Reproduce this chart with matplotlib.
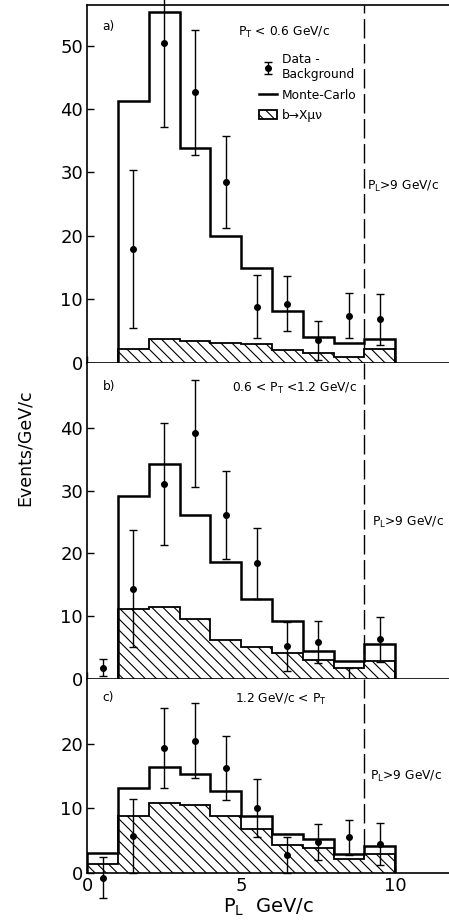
import matplotlib
matplotlib.use("Agg")
import matplotlib.pyplot as plt
import numpy as np

# bin edges in P_L (GeV/c)
edges_ab = np.arange(1, 11)
edges_c = np.arange(0, 11)
centers = np.arange(0.5, 10, 1.0)

# a) P_T < 0.6 GeV/c
mc_a = [41.2, 55.3, 33.9, 20.0, 14.9, 8.2, 4.1, 3.1, 3.7]
bmu_a = [2.2, 3.7, 3.4, 3.1, 2.9, 1.9, 1.5, 0.8, 2.1]
data_a = [17.9, 50.4, 42.6, 28.5, 8.8, 9.3, 3.5, 7.4, 6.8]
err_a = [12.5, 13.2, 9.8, 7.3, 5.0, 4.3, 3.1, 3.5, 4.0]

# b) 0.6 < P_T < 1.2 GeV/c
mc_b = [29.2, 34.3, 26.1, 18.7, 12.7, 9.3, 4.5, 2.8, 5.5]
bmu_b = [11.2, 11.5, 9.5, 6.2, 5.1, 4.2, 3.0, 1.8, 2.9]
data_b = [1.8, 14.4, 31.1, 39.1, 26.1, 18.4, 5.2, 5.9, -0.4, 6.3]
err_b = [1.4, 9.3, 9.7, 8.5, 7.0, 5.7, 3.9, 3.4, 2.2, 3.6]

# c) 1.2 GeV/c < P_T
mc_c = [3.1, 13.2, 16.5, 15.3, 12.7, 8.8, 6.0, 5.2, 2.9, 4.2]
bmu_c = [1.35, 8.8, 10.9, 10.5, 8.8, 6.8, 4.3, 3.8, 2.1, 2.9]
data_c = [-0.8, 5.7, 19.4, 20.5, 16.3, 10.0, 2.7, 4.7, 5.5, 4.5]
err_c = [3.2, 5.7, 6.2, 5.8, 5.0, 4.5, 2.8, 2.8, 2.7, 3.3]

plt.rcParams["font.family"] = ["DejaVu Sans"]
plt.rcParams["hatch.linewidth"] = 0.8

fig, axes = plt.subplots(3, 1, sharex=True, figsize=(4.49, 9.24), dpi=100,
                         gridspec_kw={"height_ratios": [357.5, 316.5, 193.7]})
fig.subplots_adjust(left=0.194, right=1.0, top=0.9946, bottom=0.0555, hspace=0)
ax_a, ax_b, ax_c = axes


def draw_panel(ax, edges, mc, bmu, xd, yd, yerr):
    hat = ax.stairs(bmu, edges, baseline=0, fill=True, facecolor="white",
                    edgecolor="black", hatch="\\\\\\", lw=1.3, zorder=2)
    mc_line = ax.stairs(mc, edges, baseline=0, color="black", lw=1.8, zorder=3)
    eb = ax.errorbar(xd, yd, yerr=yerr, fmt="o", color="black", ms=4,
                     elinewidth=1, capsize=3, capthick=1, zorder=4)
    for art in eb.lines[0:1] + eb.lines[1] + eb.lines[2]:
        art.set_clip_on(False)
    ax.axvline(9, color="black", lw=1, dashes=(14, 4), zorder=1)
    return hat, mc_line, eb


h_a, m_a, e_a = draw_panel(ax_a, edges_ab, mc_a, bmu_a, centers[1:], data_a, err_a)
draw_panel(ax_b, edges_ab, mc_b, bmu_b, centers, data_b, err_b)
draw_panel(ax_c, edges_c, mc_c, bmu_c, centers, data_c, err_c)

ax_a.set_ylim(0, 56.4)
ax_b.set_ylim(0, 50.4)
ax_c.set_ylim(0, 30.1)
ax_a.set_yticks([0, 10, 20, 30, 40, 50])
ax_b.set_yticks([0, 10, 20, 30, 40])
ax_c.set_yticks([0, 10, 20])
ax_c.set_xlim(0, 11.75)
ax_c.set_xticks([0, 5, 10])

for i, ax in enumerate(axes):
    ax.spines["right"].set_visible(False)
    ax.spines["top"].set_visible(i == 0)
    for s in ("left", "bottom", "top"):
        ax.spines[s].set_linewidth(1.2)
    ax.tick_params(direction="in", length=5, width=1, labelsize=13, pad=3)
    if i < 2:
        ax.tick_params(labelbottom=False)

ax_c.set_xlabel("$\\mathregular{P_L}$  GeV/c", fontsize=14, labelpad=1)
fig.text(0.055, 0.515, "Events/GeV/c", rotation=90, fontsize=12.5,
         ha="center", va="center")

fs = 8.8
# panel a
ax_a.text(0.5, 53, "a)", fontsize=fs, va="center")
ax_a.text(4.9, 52, "$\\mathregular{P_T}$ < 0.6 GeV/c", fontsize=fs, va="center")
ax_a.text(9.1, 27.7, "$\\mathregular{P_L}$>9 GeV/c", fontsize=fs, va="center")
ax_a.legend([e_a, m_a, h_a], ["Data -\nBackground", "Monte-Carlo", "b\u2192X\u03bc\u03bd"],
            loc="upper left", bbox_to_anchor=(0.475, 0.865), frameon=False,
            fontsize=fs, handlelength=1.5, handletextpad=0.4, labelspacing=0.6,
            borderpad=0, borderaxespad=0)

# panel b
ax_b.text(0.5, 46.6, "b)", fontsize=fs, va="center")
ax_b.text(4.7, 46.3, "0.6 < $\\mathregular{P_T}$ <1.2 GeV/c", fontsize=fs, va="center")
ax_b.text(9.25, 24.9, "$\\mathregular{P_L}$>9 GeV/c", fontsize=fs, va="center")

# panel c
ax_c.text(0.5, 27.2, "c)", fontsize=fs, va="center")
ax_c.text(4.8, 26.9, "1.2 GeV/c < $\\mathregular{P_T}$", fontsize=fs, va="center")
ax_c.text(9.2, 14.9, "$\\mathregular{P_L}$>9 GeV/c", fontsize=fs, va="center")

fig.savefig("out.png", dpi=100)
